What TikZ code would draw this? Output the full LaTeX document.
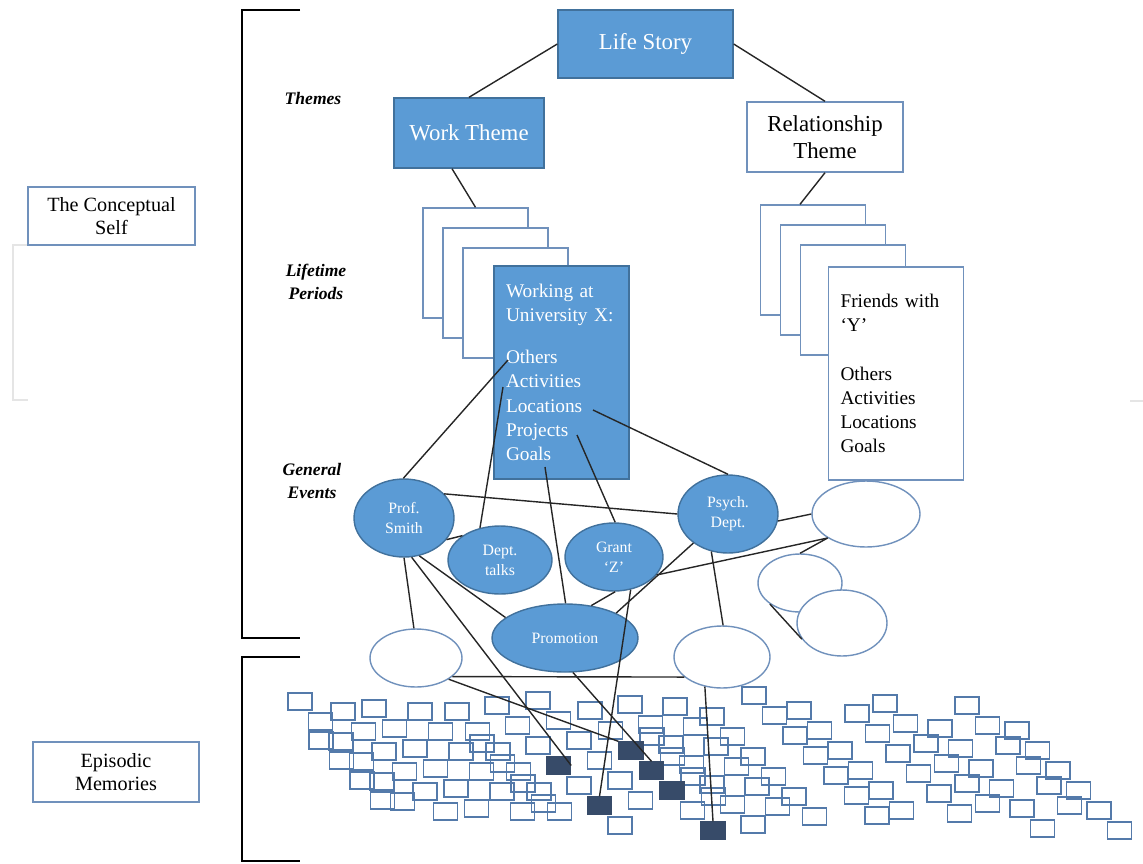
\documentclass[tikz,border=0pt]{standalone}
\usepackage{fontspec}
\setmainfont{Liberation Serif}
\usetikzlibrary{shapes.geometric}

\definecolor{lsblue}{RGB}{91,155,213}
\definecolor{lsedge}{RGB}{65,113,156}
\definecolor{lsframe}{RGB}{112,145,188}
\definecolor{lsmem}{RGB}{84,122,170}
\definecolor{lsdark}{RGB}{55,75,105}

\begin{document}
\begin{tikzpicture}[x=0.02cm, y=-0.02cm,
		bluebox/.style={draw=lsedge, fill=lsblue, line width=0.8pt, text=white, align=center, inner sep=0pt, font=\fontsize{13}{15.5}\selectfont},
		whitebox/.style={draw=lsframe, fill=white, line width=0.8pt, align=center, inner sep=0pt, font=\fontsize{13}{15.5}\selectfont},
		sidebox/.style={draw=lsframe, fill=white, line width=0.8pt, align=center, inner sep=0pt, font=\fontsize{11.5}{13.5}\selectfont},
		card/.style={draw=lsframe, fill=white, line width=0.8pt, inner sep=0pt, minimum width=2.1cm, minimum height=2.2cm},
		period/.style={line width=0.8pt, inner sep=0pt, minimum width=2.7cm, minimum height=4.26cm, text width=2.22cm, align=left, font=\fontsize{11}{13.8}\selectfont},
		level/.style={align=center, font=\fontsize{10}{13}\selectfont\bfseries\itshape},
		event/.style={ellipse, draw=lsedge, fill=lsblue, line width=0.8pt, text=white, inner sep=0pt, align=center, font=\fontsize{9}{11.5}\selectfont},
		blank/.style={ellipse, draw=lsframe, fill=white, line width=0.8pt, inner sep=0pt},
		link/.style={draw=black!85, line width=0.8pt},
		bracket/.style={draw=black, line width=1.4pt},
		memsq/.style={draw=lsmem, line width=0.8pt},
		memdark/.style={draw=lsdark, fill=lsdark, line width=0.8pt, inner sep=0pt, minimum width=0.48cm, minimum height=0.34cm}
		]
		
		\useasboundingbox (0,0) rectangle (1143,863);
		
		% Brackets
		\draw[bracket] (300,10) -- (242,10) -- (242,638) -- (300,638);
		\draw[bracket] (300,657) -- (242,657) -- (242,861) -- (300,861);
		\draw[black!10, line width=0.6pt] (28,245) -- (13,245) -- (13,400) -- (28,400);
		\draw[black!10, line width=0.6pt] (1130,401) -- (1143,401);
		
		% Side labels
		\node[sidebox, minimum width=3.34cm, minimum height=1.16cm] (concself) at (111.5,216) {The Conceptual\\Self};
		\node[sidebox, minimum width=3.32cm, minimum height=1.2cm] (episodic) at (116,772) {Episodic\\Memories};
		
		% Level labels
		\node[level] (lthemes) at (313,98) {Themes};
		\node[level] (lperiods) at (316,282) {Lifetime\\Periods};
		\node[level] (levents) at (312,481) {General\\Events};
		
		% Life story and themes
		\node[bluebox, minimum width=3.5cm, minimum height=1.36cm] (lifestory) at (645.5,44) {Life Story};
		\node[bluebox, minimum width=3.0cm, minimum height=1.4cm] (worktheme) at (469,133) {Work Theme};
		\node[whitebox, minimum width=3.12cm, minimum height=1.4cm] (reltheme) at (825,137) {Relationship\\Theme};
		
		% Lifetime periods
		\node[card] (wp1) at (475.5,263) {};
		\node[card] (wp2) at (495.5,283) {};
		\node[card] (wp3) at (515.5,303) {};
		\node[period, draw=lsedge, fill=lsblue, text=white] (workcard) at (561.5,372.5)
			{Working at\\University X:\\[10pt]Others\\Activities\\Locations\\Projects\\Goals};
		\node[card] (rp1) at (813,260) {};
		\node[card] (rp2) at (833,280) {};
		\node[card] (rp3) at (853,300) {};
		\node[period, draw=lsframe, fill=white] (relcard) at (896,373.5)
			{Friends with\\‘Y’\\[13.8pt]Others\\Activities\\Locations\\Goals};
		
		\coordinate (wOthers) at (508,360);
		\coordinate (wActivities) at (503,387);
		\coordinate (wLocations) at (593,410);
		\coordinate (wProjects) at (577,435);
		\coordinate (wGoals) at (545,467);
		
		% General events
		\node[event, minimum width=2.0cm, minimum height=1.56cm] (smith) at (404,518) {Prof.\\Smith};
		\node[event, minimum width=2.08cm, minimum height=1.36cm] (talks) at (500,560) {Dept.\\talks};
		\node[event, minimum width=1.96cm, minimum height=1.36cm] (grant) at (614,557) {Grant\\‘Z’};
		\node[event, minimum width=2.0cm, minimum height=1.56cm] (psych) at (728,514) {Psych.\\Dept.};
		\node[event, minimum width=2.92cm, minimum height=1.36cm] (promo) at (565,638) {Promotion};
		\node[blank, minimum width=1.84cm, minimum height=1.16cm] (evA) at (416,658) {};
		\node[blank, minimum width=1.92cm, minimum height=1.24cm] (evB) at (722,657) {};
		\node[blank, minimum width=2.16cm, minimum height=1.32cm] (evC) at (866,514) {};
		\node[blank, minimum width=1.68cm, minimum height=1.16cm] (evD) at (800,583) {};
		\node[blank, minimum width=1.8cm, minimum height=1.32cm] (evE) at (842,623) {};
		
		% Episodic memories
		\foreach \sx/\sy/\n in {288/693/6, 331/703/6, 362/700/6, 408/703/6, 445/703/6, 485/697/7,
			526/692/6, 578/702/7, 618/696/7, 663/698/6, 700/708/6, 742/687/7, 787/702/6,
			845/705/6, 873/695/6, 928/720/6, 955/697/6, 1005/722/6,
			309/732/4, 470/735/4, 640/728/4}
		\foreach \k in {1,...,\n}
		\draw[memsq] ({\sx+20.5*(\k-1)},{\sy+20*(\k-1)}) rectangle ++(24,17);
		
		\node[memdark] (memA) at (558.5,765.5) {};
		\node[memdark] (memB) at (599.5,805.5) {};
		\node[memdark] (memC) at (631,750.5) {};
		\node[memdark] (memD) at (651.5,770.5) {};
		\node[memdark] (memE) at (672,790.5) {};
		\node[memdark] (memF) at (713,830.5) {};
		
		% Hierarchy links
		\draw[link] (lifestory.west) -- (worktheme.north);
		\draw[link] (lifestory.east) -- (reltheme.north);
		\draw[link] ([xshift=-0.34cm]worktheme.south) -- (wp1.north);
		\draw[link] (reltheme.south) -- ([xshift=-0.26cm]rp1.north);
		
		% Period to events
		\draw[link] (wOthers) -- (smith.91);
		\draw[link] (wActivities) -- (talks.122);
		\draw[link] (wLocations) -- (psych.90);
		\draw[link] (wProjects) -- (grant.88);
		\draw[link] (wGoals) -- (promo.89);
		
		% Event to event
		\draw[link] (smith.31) -- (psych.180);
		\draw[link] (smith.-27) -- (talks.147);
		\draw[link] (psych.-8) -- (evC.180);
		\draw[link] (grant.-23) -- (evC.212);
		\draw[link] (evC.212) -- (evD.90);
		\draw[link] (psych.220) -- (promo.26);
		\draw[link] (grant.272) -- (promo.51);
		\draw[link] (psych.246) -- (evB.88);
		\draw[link] (smith.270) -- (evA.94);
		\draw[link] (smith.-68) -- (promo.161);
		\draw[link] (evA.-27) -- (evB.208);
		\draw[link] (evD.215) -- (evE.202);
		
		% Events to memories
		\draw[link] (smith.-79) -- (memA.east);
		\draw[link] (evA.-33) -- (memC.north west);
		\draw[link] (promo.-77) -- (memD.north);
		\draw[link] (grant.-63) -- (memB.north);
		\draw[link] (evB.240) -- (memF.north);
		
	\end{tikzpicture}
\end{document}
